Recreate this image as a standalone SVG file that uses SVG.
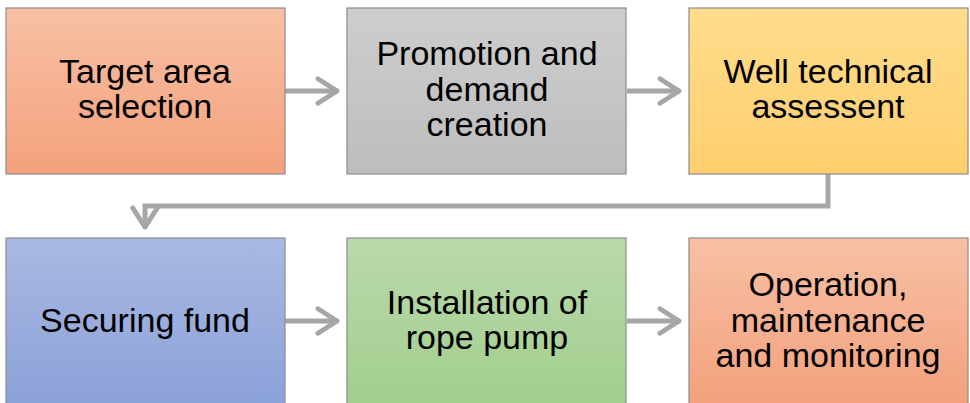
<svg xmlns="http://www.w3.org/2000/svg" width="970" height="403" viewBox="0 0 970 403">
<defs>
<linearGradient id="gOrange" x1="0" y1="0" x2="0" y2="1"><stop offset="0" stop-color="#F8C0A4"/><stop offset="1" stop-color="#F4A17C"/></linearGradient>
<linearGradient id="gGray" x1="0" y1="0" x2="0" y2="1"><stop offset="0" stop-color="#CECECE"/><stop offset="1" stop-color="#BDBDBD"/></linearGradient>
<linearGradient id="gYellow" x1="0" y1="0" x2="0" y2="1"><stop offset="0" stop-color="#FFDC8C"/><stop offset="1" stop-color="#FFCF6E"/></linearGradient>
<linearGradient id="gBlue" x1="0" y1="0" x2="0" y2="1"><stop offset="0" stop-color="#AAB9E2"/><stop offset="1" stop-color="#8AA1D8"/></linearGradient>
<linearGradient id="gGreen" x1="0" y1="0" x2="0" y2="1"><stop offset="0" stop-color="#B9D9AB"/><stop offset="1" stop-color="#A2CE8D"/></linearGradient>
<linearGradient id="gOrange2" x1="0" y1="0" x2="0" y2="1"><stop offset="0" stop-color="#F8C0A4"/><stop offset="1" stop-color="#F3A07C"/></linearGradient>
<marker id="arr" viewBox="0 0 10 10" refX="8.3" refY="5" markerWidth="6" markerHeight="6" orient="auto" markerUnits="strokeWidth">
<path d="M1.6,0.9 L8,5 L1.6,9.1" fill="none" stroke="#A6A6A6" stroke-width="1.6" stroke-linecap="round" stroke-linejoin="round"/>
</marker>
</defs>
<style>
.box{stroke:#8C8C8C;stroke-width:1.2}
.t{font-family:"Liberation Sans",Arial,sans-serif;font-size:34px;fill:#000;text-anchor:middle}
.c{fill:none;stroke:#A6A6A6;stroke-width:5}
</style>
<g id="connectors">
<path class="c" d="M285,91 H338" marker-end="url(#arr)"/>
<path class="c" d="M627,91 H680" marker-end="url(#arr)"/>
<path class="c" d="M828,174 V206 H145 V228" marker-end="url(#arr)"/>
<path class="c" d="M285,321 H338" marker-end="url(#arr)"/>
<path class="c" d="M627,321 H680" marker-end="url(#arr)"/>
</g>
<g id="n1"><rect class="box" x="6" y="8" width="279" height="166" fill="url(#gOrange)"/>
<text class="t" x="145" y="83">Target area</text><text class="t" x="145" y="118">selection</text></g>
<g id="n2"><rect class="box" x="347" y="8" width="279" height="166" fill="url(#gGray)"/>
<text class="t" x="487" y="65">Promotion and</text><text class="t" x="487" y="101">demand</text><text class="t" x="487" y="136">creation</text></g>
<g id="n3"><rect class="box" x="689" y="8" width="279" height="166" fill="url(#gYellow)"/>
<text class="t" x="828" y="83">Well technical</text><text class="t" x="828" y="118">assessent</text></g>
<g id="n4"><rect class="box" x="6" y="238" width="279" height="170" fill="url(#gBlue)"/>
<text class="t" x="145" y="332">Securing fund</text></g>
<g id="n5"><rect class="box" x="347" y="238" width="279" height="170" fill="url(#gGreen)"/>
<text class="t" x="487" y="314">Installation of</text><text class="t" x="487" y="349">rope pump</text></g>
<g id="n6"><rect class="box" x="689" y="238" width="279" height="170" fill="url(#gOrange2)"/>
<text class="t" x="828" y="296">Operation,</text><text class="t" x="828" y="332">maintenance</text><text class="t" x="828" y="367">and monitoring</text></g>
</svg>
